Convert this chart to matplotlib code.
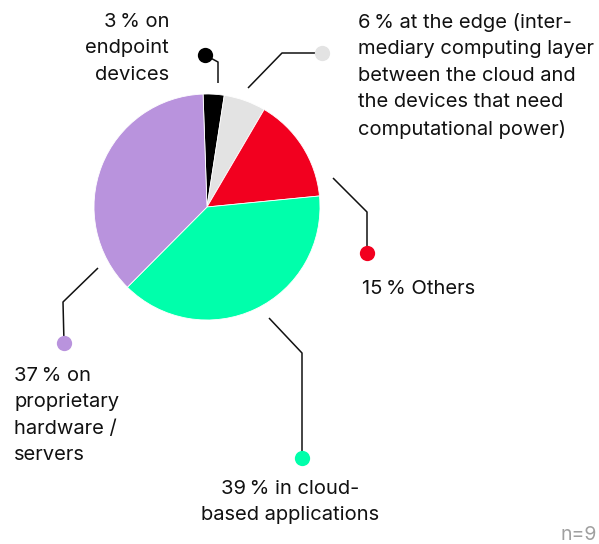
import matplotlib.pyplot as plt

plt.rcParams['font.family'] = ['Inter', 'DejaVu Sans']

# Share of workloads by where they run
labels = [
    "3\u2009% on\nendpoint\ndevices",
    "6\u2009% at the edge (inter-\nmediary computing layer\nbetween the cloud and\nthe devices that need\ncomputational power)",
    "15\u2009% Others",
    "39\u2009% in cloud-\nbased applications",
    "37\u2009% on\nproprietary\nhardware /\nservers",
]
shares = [3, 6, 15, 39, 37]
colors = ["#000000", "#e3e3e3", "#f2001f", "#00ffab", "#b993dd"]
note = "n=9"

# Layout in pixel units (figure is 599 x 544 px)
W, H = 599, 544
CENTER = (207, 207)
RADIUS = 113

# leader line vertices: start near the pie, elbow, dot
leaders = [
    [(218, 83), (218, 62), (205, 55)],
    [(248, 88), (282, 53), (322, 53)],
    [(333, 178), (367, 212), (367, 253)],
    [(269, 318), (302, 353), (302, 458)],
    [(98, 268), (63, 302), (64, 343)],
]
# text anchor (x, top y) and alignment
text_pos = [
    (169, 13, 'right'),
    (358, 13, 'left'),
    (362, 280, 'left'),
    (290, 480, 'center'),
    (14, 367, 'left'),
]

fig = plt.figure(figsize=(W / 100, H / 100), dpi=100)
ax = fig.add_axes([0, 0, 1, 1])

# y axis points down, so flip the direction of the pie
ax.pie(shares, colors=colors, center=CENTER, radius=RADIUS,
       startangle=-92, counterclock=True,
       wedgeprops=dict(edgecolor='white', linewidth=0.6))

for pts, col in zip(leaders, colors):
    xs = [p[0] for p in pts]
    ys = [p[1] for p in pts]
    ax.plot(xs, ys, color='#111111', linewidth=1.1, solid_capstyle='butt')
    ax.plot(xs[-1], ys[-1], 'o', color=col, markersize=11, markeredgewidth=0)

for lab, (x, y, ha) in zip(labels, text_pos):
    ax.text(x, y, lab, ha=ha, va='top', multialignment=ha,
            fontsize=14.5, color='#111111', linespacing=1.6)

ax.text(597, 544, note, ha='right', va='bottom', fontsize=14, color='#a0a0a0')

ax.set_xlim(0, W)
ax.set_ylim(H, 0)
ax.set_aspect('equal')
ax.axis('off')

fig.savefig('out.png', dpi=100)
